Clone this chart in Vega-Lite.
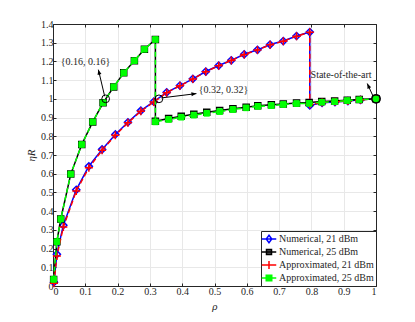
{
  "$schema": "https://vega.github.io/schema/vega-lite/v6.json",
  "autosize": "none",
  "width": 323,
  "height": 262,
  "padding": {"left": 53, "top": 24, "right": 39, "bottom": 36},
  "background": "white",
  "datasets": {
    "main": [
      {"series": "Numerical, 21 dBm", "i": 0, "rho": 0.003, "eta": 0.02},
      {"series": "Numerical, 21 dBm", "i": 1, "rho": 0.012, "eta": 0.17},
      {"series": "Numerical, 21 dBm", "i": 2, "rho": 0.032, "eta": 0.325},
      {"series": "Numerical, 21 dBm", "i": 3, "rho": 0.072, "eta": 0.514},
      {"series": "Numerical, 21 dBm", "i": 4, "rho": 0.111, "eta": 0.64},
      {"series": "Numerical, 21 dBm", "i": 5, "rho": 0.152, "eta": 0.73},
      {"series": "Numerical, 21 dBm", "i": 6, "rho": 0.193, "eta": 0.81},
      {"series": "Numerical, 21 dBm", "i": 7, "rho": 0.232, "eta": 0.875},
      {"series": "Numerical, 21 dBm", "i": 8, "rho": 0.272, "eta": 0.937},
      {"series": "Numerical, 21 dBm", "i": 9, "rho": 0.312, "eta": 0.985},
      {"series": "Numerical, 21 dBm", "i": 10, "rho": 0.352, "eta": 1.035},
      {"series": "Numerical, 21 dBm", "i": 11, "rho": 0.393, "eta": 1.071},
      {"series": "Numerical, 21 dBm", "i": 12, "rho": 0.433, "eta": 1.107},
      {"series": "Numerical, 21 dBm", "i": 13, "rho": 0.473, "eta": 1.146},
      {"series": "Numerical, 21 dBm", "i": 14, "rho": 0.513, "eta": 1.178},
      {"series": "Numerical, 21 dBm", "i": 15, "rho": 0.552, "eta": 1.206},
      {"series": "Numerical, 21 dBm", "i": 16, "rho": 0.592, "eta": 1.238},
      {"series": "Numerical, 21 dBm", "i": 17, "rho": 0.633, "eta": 1.262},
      {"series": "Numerical, 21 dBm", "i": 18, "rho": 0.672, "eta": 1.29},
      {"series": "Numerical, 21 dBm", "i": 19, "rho": 0.713, "eta": 1.309},
      {"series": "Numerical, 21 dBm", "i": 20, "rho": 0.754, "eta": 1.336},
      {"series": "Numerical, 21 dBm", "i": 21, "rho": 0.795, "eta": 1.357},
      {"series": "Numerical, 21 dBm", "i": 22, "rho": 0.795, "eta": 0.965},
      {"series": "Numerical, 21 dBm", "i": 23, "rho": 0.833, "eta": 0.979},
      {"series": "Numerical, 21 dBm", "i": 24, "rho": 0.873, "eta": 0.983},
      {"series": "Numerical, 21 dBm", "i": 25, "rho": 0.913, "eta": 0.988},
      {"series": "Numerical, 21 dBm", "i": 26, "rho": 0.952, "eta": 0.995},
      {"series": "Numerical, 21 dBm", "i": 27, "rho": 1.0, "eta": 1.0},

      {"series": "Numerical, 25 dBm", "i": 0, "rho": 0.002, "eta": 0.035},
      {"series": "Numerical, 25 dBm", "i": 1, "rho": 0.012, "eta": 0.237},
      {"series": "Numerical, 25 dBm", "i": 2, "rho": 0.024, "eta": 0.358},
      {"series": "Numerical, 25 dBm", "i": 3, "rho": 0.055, "eta": 0.598},
      {"series": "Numerical, 25 dBm", "i": 4, "rho": 0.089, "eta": 0.756},
      {"series": "Numerical, 25 dBm", "i": 5, "rho": 0.123, "eta": 0.877},
      {"series": "Numerical, 25 dBm", "i": 6, "rho": 0.155, "eta": 0.979},
      {"series": "Numerical, 25 dBm", "i": 7, "rho": 0.188, "eta": 1.064},
      {"series": "Numerical, 25 dBm", "i": 8, "rho": 0.219, "eta": 1.139},
      {"series": "Numerical, 25 dBm", "i": 9, "rho": 0.252, "eta": 1.204},
      {"series": "Numerical, 25 dBm", "i": 10, "rho": 0.283, "eta": 1.265},
      {"series": "Numerical, 25 dBm", "i": 11, "rho": 0.317, "eta": 1.317},
      {"series": "Numerical, 25 dBm", "i": 12, "rho": 0.317, "eta": 0.88},
      {"series": "Numerical, 25 dBm", "i": 13, "rho": 0.358, "eta": 0.895},
      {"series": "Numerical, 25 dBm", "i": 14, "rho": 0.397, "eta": 0.907},
      {"series": "Numerical, 25 dBm", "i": 15, "rho": 0.436, "eta": 0.918},
      {"series": "Numerical, 25 dBm", "i": 16, "rho": 0.476, "eta": 0.928},
      {"series": "Numerical, 25 dBm", "i": 17, "rho": 0.516, "eta": 0.938},
      {"series": "Numerical, 25 dBm", "i": 18, "rho": 0.557, "eta": 0.947},
      {"series": "Numerical, 25 dBm", "i": 19, "rho": 0.598, "eta": 0.955},
      {"series": "Numerical, 25 dBm", "i": 20, "rho": 0.634, "eta": 0.963},
      {"series": "Numerical, 25 dBm", "i": 21, "rho": 0.676, "eta": 0.968},
      {"series": "Numerical, 25 dBm", "i": 22, "rho": 0.713, "eta": 0.973},
      {"series": "Numerical, 25 dBm", "i": 23, "rho": 0.754, "eta": 0.978},
      {"series": "Numerical, 25 dBm", "i": 24, "rho": 0.793, "eta": 0.981},
      {"series": "Numerical, 25 dBm", "i": 25, "rho": 0.832, "eta": 0.986},
      {"series": "Numerical, 25 dBm", "i": 26, "rho": 0.872, "eta": 0.989},
      {"series": "Numerical, 25 dBm", "i": 27, "rho": 0.911, "eta": 0.993},
      {"series": "Numerical, 25 dBm", "i": 28, "rho": 0.948, "eta": 0.996},
      {"series": "Numerical, 25 dBm", "i": 29, "rho": 1.0, "eta": 1.0},

      {"series": "Approximated, 21 dBm", "i": 0, "rho": 0.003, "eta": 0.015},
      {"series": "Approximated, 21 dBm", "i": 1, "rho": 0.012, "eta": 0.16},
      {"series": "Approximated, 21 dBm", "i": 2, "rho": 0.032, "eta": 0.315},
      {"series": "Approximated, 21 dBm", "i": 3, "rho": 0.072, "eta": 0.508},
      {"series": "Approximated, 21 dBm", "i": 4, "rho": 0.111, "eta": 0.632},
      {"series": "Approximated, 21 dBm", "i": 5, "rho": 0.152, "eta": 0.725},
      {"series": "Approximated, 21 dBm", "i": 6, "rho": 0.193, "eta": 0.806},
      {"series": "Approximated, 21 dBm", "i": 7, "rho": 0.232, "eta": 0.872},
      {"series": "Approximated, 21 dBm", "i": 8, "rho": 0.272, "eta": 0.934},
      {"series": "Approximated, 21 dBm", "i": 9, "rho": 0.312, "eta": 0.983},
      {"series": "Approximated, 21 dBm", "i": 10, "rho": 0.352, "eta": 1.033},
      {"series": "Approximated, 21 dBm", "i": 11, "rho": 0.393, "eta": 1.07},
      {"series": "Approximated, 21 dBm", "i": 12, "rho": 0.433, "eta": 1.106},
      {"series": "Approximated, 21 dBm", "i": 13, "rho": 0.473, "eta": 1.145},
      {"series": "Approximated, 21 dBm", "i": 14, "rho": 0.513, "eta": 1.177},
      {"series": "Approximated, 21 dBm", "i": 15, "rho": 0.552, "eta": 1.205},
      {"series": "Approximated, 21 dBm", "i": 16, "rho": 0.592, "eta": 1.237},
      {"series": "Approximated, 21 dBm", "i": 17, "rho": 0.633, "eta": 1.261},
      {"series": "Approximated, 21 dBm", "i": 18, "rho": 0.672, "eta": 1.289},
      {"series": "Approximated, 21 dBm", "i": 19, "rho": 0.713, "eta": 1.308},
      {"series": "Approximated, 21 dBm", "i": 20, "rho": 0.754, "eta": 1.335},
      {"series": "Approximated, 21 dBm", "i": 21, "rho": 0.795, "eta": 1.356},
      {"series": "Approximated, 21 dBm", "i": 22, "rho": 0.795, "eta": 0.97},
      {"series": "Approximated, 21 dBm", "i": 23, "rho": 0.833, "eta": 0.98},
      {"series": "Approximated, 21 dBm", "i": 24, "rho": 0.873, "eta": 0.984},
      {"series": "Approximated, 21 dBm", "i": 25, "rho": 0.913, "eta": 0.989},
      {"series": "Approximated, 21 dBm", "i": 26, "rho": 0.952, "eta": 0.995},
      {"series": "Approximated, 21 dBm", "i": 27, "rho": 1.0, "eta": 1.0},

      {"series": "Approximated, 25 dBm", "i": 0, "rho": 0.002, "eta": 0.035},
      {"series": "Approximated, 25 dBm", "i": 1, "rho": 0.012, "eta": 0.237},
      {"series": "Approximated, 25 dBm", "i": 2, "rho": 0.024, "eta": 0.358},
      {"series": "Approximated, 25 dBm", "i": 3, "rho": 0.055, "eta": 0.598},
      {"series": "Approximated, 25 dBm", "i": 4, "rho": 0.089, "eta": 0.756},
      {"series": "Approximated, 25 dBm", "i": 5, "rho": 0.123, "eta": 0.877},
      {"series": "Approximated, 25 dBm", "i": 6, "rho": 0.155, "eta": 0.979},
      {"series": "Approximated, 25 dBm", "i": 7, "rho": 0.188, "eta": 1.064},
      {"series": "Approximated, 25 dBm", "i": 8, "rho": 0.219, "eta": 1.139},
      {"series": "Approximated, 25 dBm", "i": 9, "rho": 0.252, "eta": 1.204},
      {"series": "Approximated, 25 dBm", "i": 10, "rho": 0.283, "eta": 1.265},
      {"series": "Approximated, 25 dBm", "i": 11, "rho": 0.317, "eta": 1.317},
      {"series": "Approximated, 25 dBm", "i": 12, "rho": 0.317, "eta": 0.877},
      {"series": "Approximated, 25 dBm", "i": 13, "rho": 0.358, "eta": 0.89},
      {"series": "Approximated, 25 dBm", "i": 14, "rho": 0.397, "eta": 0.902},
      {"series": "Approximated, 25 dBm", "i": 15, "rho": 0.436, "eta": 0.913},
      {"series": "Approximated, 25 dBm", "i": 16, "rho": 0.476, "eta": 0.923},
      {"series": "Approximated, 25 dBm", "i": 17, "rho": 0.516, "eta": 0.932},
      {"series": "Approximated, 25 dBm", "i": 18, "rho": 0.557, "eta": 0.943},
      {"series": "Approximated, 25 dBm", "i": 19, "rho": 0.598, "eta": 0.952},
      {"series": "Approximated, 25 dBm", "i": 20, "rho": 0.634, "eta": 0.96},
      {"series": "Approximated, 25 dBm", "i": 21, "rho": 0.676, "eta": 0.964},
      {"series": "Approximated, 25 dBm", "i": 22, "rho": 0.713, "eta": 0.97},
      {"series": "Approximated, 25 dBm", "i": 23, "rho": 0.754, "eta": 0.975},
      {"series": "Approximated, 25 dBm", "i": 24, "rho": 0.793, "eta": 0.976},
      {"series": "Approximated, 25 dBm", "i": 25, "rho": 0.832, "eta": 0.982},
      {"series": "Approximated, 25 dBm", "i": 26, "rho": 0.872, "eta": 0.985},
      {"series": "Approximated, 25 dBm", "i": 27, "rho": 0.911, "eta": 0.991},
      {"series": "Approximated, 25 dBm", "i": 28, "rho": 0.948, "eta": 0.995},
      {"series": "Approximated, 25 dBm", "i": 29, "rho": 1.0, "eta": 1.0}
    ]
  },
  "layer": [
    {
      "data": {"name": "main"},
      "encoding": {
        "x": {"field": "rho", "type": "quantitative", "scale": {"domain": [0, 1], "nice": false, "zero": false},
          "axis": {"values": [0,0.1,0.2,0.3,0.4,0.5,0.6,0.7,0.8,0.9,1], "format": "~g", "title": "ρ", "titleFontStyle": "italic", "titlePadding": 4, "orient": "bottom", "grid": true}},
        "y": {"field": "eta", "type": "quantitative", "scale": {"domain": [0, 1.4], "nice": false, "zero": false},
          "axis": {"values": [0,0.1,0.2,0.3,0.4,0.5,0.6,0.7,0.8,0.9,1,1.1,1.2,1.3,1.4], "format": "~g", "title": "ηR", "titleFontStyle": "italic", "titlePadding": 4, "orient": "left", "grid": true}}
      },
      "layer": [
        {
          "transform": [{"filter": "datum.series == 'Numerical, 21 dBm'"}],
          "mark": {"type": "line", "strokeWidth": 1.5},
          "encoding": {
            "order": {"field": "i", "type": "quantitative"},
            "color": {"field": "series", "type": "nominal",
              "scale": {"domain": ["Numerical, 21 dBm", "Numerical, 25 dBm", "Approximated, 21 dBm", "Approximated, 25 dBm"], "range": ["#0000ff", "#000000", "#ff0000", "#00ff00"]},
              "legend": {
                "title": null, "orient": "bottom-right", "offset": 0, "padding": 2,
                "strokeColor": "#262626", "fillColor": "white",
                "labelFont": "Liberation Serif", "labelFontSize": 10, "labelColor": "#262626", "labelOffset": 4,
                "symbolSize": 100, "symbolStrokeWidth": 1.5, "rowPadding": 0,
                "encode": {"symbols": {"update": {
                  "shape": {"signal": "datum.value == 'Numerical, 21 dBm' ? 'M-1.45,0L1.45,0M0,-0.75L0.55,0L0,0.75L-0.55,0Z' : datum.value == 'Numerical, 25 dBm' ? 'M-1.45,0L1.45,0M-0.5,-0.5L0.5,-0.5L0.5,0.5L-0.5,0.5Z' : datum.value == 'Approximated, 21 dBm' ? 'M-1.45,0L1.45,0M0,-0.8L0,0.8' : 'M-1.45,0L1.45,0M-0.55,-0.55L0.55,-0.55L0.55,0.55L-0.55,0.55Z'"},
                  "fill": {"signal": "datum.value == 'Approximated, 25 dBm' ? '#00ff00' : datum.value == 'Numerical, 25 dBm' ? '#555555' : 'transparent'"},
                  "fillOpacity": {"value": 1}
                }}}
              }}
          }
        },
        {
          "transform": [{"filter": "datum.series == 'Numerical, 21 dBm'"}],
          "mark": {"type": "point", "shape": "diamond", "size": 50, "filled": false, "stroke": "#0000ff", "strokeWidth": 1.5, "opacity": 1}
        },
        {
          "transform": [{"filter": "datum.series == 'Numerical, 25 dBm'"}],
          "mark": {"type": "line", "strokeWidth": 1.5},
          "encoding": {
            "order": {"field": "i", "type": "quantitative"},
            "color": {"field": "series", "type": "nominal"}
          }
        },
        {
          "transform": [{"filter": "datum.series == 'Numerical, 25 dBm'"}],
          "mark": {"type": "point", "shape": "square", "size": 36, "filled": false, "stroke": "#000000", "strokeWidth": 1.5, "opacity": 1}
        },
        {
          "transform": [{"filter": "datum.series == 'Approximated, 21 dBm'"}],
          "mark": {"type": "line", "strokeWidth": 1.5, "strokeDash": [5, 3]},
          "encoding": {
            "order": {"field": "i", "type": "quantitative"},
            "color": {"field": "series", "type": "nominal"}
          }
        },
        {
          "transform": [{"filter": "datum.series == 'Approximated, 21 dBm'"}],
          "mark": {"type": "point", "shape": "M-1,0L1,0M0,-1L0,1", "size": 64, "filled": false, "stroke": "#ff0000", "strokeWidth": 1.5, "opacity": 1}
        },
        {
          "transform": [{"filter": "datum.series == 'Approximated, 25 dBm'"}],
          "mark": {"type": "line", "strokeWidth": 1.5, "strokeDash": [5, 3]},
          "encoding": {
            "order": {"field": "i", "type": "quantitative"},
            "color": {"field": "series", "type": "nominal"}
          }
        },
        {
          "transform": [{"filter": "datum.series == 'Approximated, 25 dBm'"}],
          "mark": {"type": "point", "shape": "square", "size": 32, "filled": true, "fill": "#00ff00", "stroke": "#00ff00", "strokeWidth": 1, "opacity": 1}
        },
        {
          "data": {"values": [{"rho": 0.163, "eta": 1.0}, {"rho": 0.328, "eta": 1.0}]},
          "mark": {"type": "point", "shape": "circle", "size": 60, "filled": false, "stroke": "#000000", "strokeWidth": 1, "opacity": 1}
        },
        {
          "data": {"values": [{"rho": 1.0, "eta": 1.0}]},
          "mark": {"type": "point", "shape": "circle", "size": 70, "filled": false, "stroke": "#000000", "strokeWidth": 1.5, "opacity": 1}
        },
        {
          "data": {"values": [{"rho": 0.16, "eta": 1.014, "rho2": 0.1405, "eta2": 1.156}]},
          "mark": {"type": "rule", "stroke": "#000000", "strokeWidth": 1},
          "encoding": {"x2": {"field": "rho2"}, "y2": {"field": "eta2"}}
        },
        {
          "data": {"values": [{"rho": 0.1405, "eta": 1.156}]},
          "mark": {"type": "point", "shape": "M0,0L-0.4,1L0.4,1Z", "size": 100, "filled": true, "fill": "#000000", "stroke": null, "angle": 347, "opacity": 1}
        },
        {
          "data": {"values": [{"rho": 0.3355, "eta": 1.005, "rho2": 0.444, "eta2": 1.028}]},
          "mark": {"type": "rule", "stroke": "#000000", "strokeWidth": 1},
          "encoding": {"x2": {"field": "rho2"}, "y2": {"field": "eta2"}}
        },
        {
          "data": {"values": [{"rho": 0.444, "eta": 1.028}]},
          "mark": {"type": "point", "shape": "M0,0L-0.4,1L0.4,1Z", "size": 100, "filled": true, "fill": "#000000", "stroke": null, "angle": 83, "opacity": 1}
        },
        {
          "data": {"values": [{"rho": 0.991, "eta": 1.014, "rho2": 0.973, "eta2": 1.082}]},
          "mark": {"type": "rule", "stroke": "#000000", "strokeWidth": 1},
          "encoding": {"x2": {"field": "rho2"}, "y2": {"field": "eta2"}}
        },
        {
          "data": {"values": [{"rho": 0.973, "eta": 1.082}]},
          "mark": {"type": "point", "shape": "M0,0L-0.4,1L0.4,1Z", "size": 100, "filled": true, "fill": "#000000", "stroke": null, "angle": 336, "opacity": 1}
        },
        {
          "data": {"values": [
            {"rho": 0.1005, "eta": 1.197, "label": "{0.16, 0.16}"},
            {"rho": 0.528, "eta": 1.048, "label": "{0.32, 0.32}"},
            {"rho": 0.892, "eta": 1.128, "label": "State-of-the-art"}
          ]},
          "mark": {"type": "text", "font": "Liberation Serif", "fontSize": 10, "color": "#262626", "align": "center", "baseline": "middle"},
          "encoding": {"text": {"field": "label", "type": "nominal"}}
        }
      ]
    },
    {
      "data": {"values": [{"rho": 0, "eta": 0}, {"rho": 1, "eta": 1.4}]},
      "mark": {"type": "point", "opacity": 0},
      "encoding": {
        "x": {"field": "rho", "type": "quantitative", "scale": {"domain": [0, 1], "nice": false, "zero": false},
          "axis": {"orient": "top", "values": [0,0.1,0.2,0.3,0.4,0.5,0.6,0.7,0.8,0.9,1], "labels": false, "title": null, "grid": false}},
        "y": {"field": "eta", "type": "quantitative", "scale": {"domain": [0, 1.4], "nice": false, "zero": false},
          "axis": {"orient": "right", "values": [0,0.1,0.2,0.3,0.4,0.5,0.6,0.7,0.8,0.9,1,1.1,1.2,1.3,1.4], "labels": false, "title": null, "grid": false}}
      }
    }
  ],
  "resolve": {"axis": {"x": "independent", "y": "independent"}},
  "config": {
    "font": "Liberation Serif",
    "view": {"stroke": null},
    "axis": {
      "labelFont": "Liberation Serif", "labelFontSize": 10, "labelColor": "#262626",
      "domainColor": "#262626", "domainWidth": 1, "tickColor": "#262626", "tickSize": -3,
      "labelPadding": 3, "gridColor": "#e8e8e8", "gridWidth": 1,
      "titleFont": "Liberation Serif", "titleFontWeight": "normal", "titleFontSize": 11, "titleColor": "#262626"
    }
  }
}
